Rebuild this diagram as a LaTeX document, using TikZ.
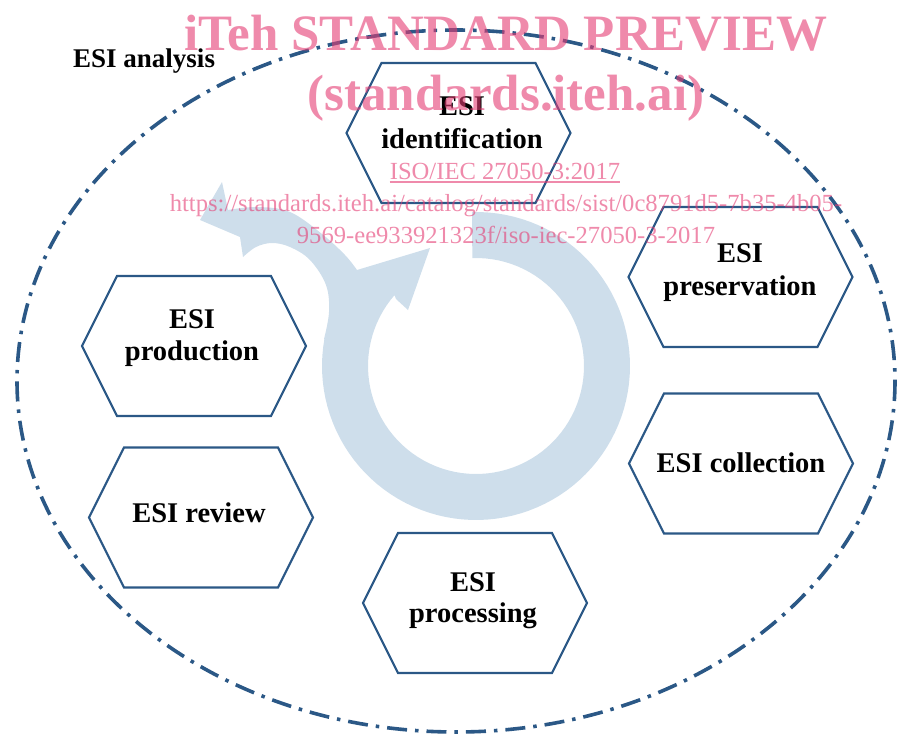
\documentclass[tikz,border=0pt]{standalone}
\usepackage{fontspec}
\setmainfont{Liberation Serif}

\definecolor{hexblue}{RGB}{43,88,134}
\definecolor{ringblue}{RGB}{206,222,235}
\definecolor{wmpink}{RGB}{228,60,115}

% hexagonal frame drawn round an (invisible) rectangular node
\newcommand\hexframe[1]{%
  \draw[hexline] (#1.west) -- ([xshift=35pt]#1.north west)
    -- ([xshift=-35pt]#1.north east) -- (#1.east)
    -- ([xshift=-35pt]#1.south east) -- ([xshift=35pt]#1.south west) -- cycle;}

\tikzset{
  hexbox/.style={minimum width=224pt, minimum height=140pt, inner sep=0pt, outer sep=0pt},
  hexline/.style={draw=hexblue, line width=2.2pt, line join=miter},
  esitext/.style={font=\bfseries\fontsize{28.5}{33}\selectfont, anchor=base, inner sep=0pt},
  titletext/.style={font=\bfseries\fontsize{27}{33}\selectfont, anchor=base west, inner sep=0pt},
  scopeline/.style={draw=hexblue, line width=3.6pt,
    dash pattern=on 20pt off 8pt on 3.5pt off 8pt},
  wmbig/.style={font=\bfseries\fontsize{51}{51}\selectfont, text=wmpink,
    text opacity=0.6, anchor=base, inner sep=0pt},
  wmsmall/.style={font=\fontsize{24.6}{26}\selectfont, text=wmpink,
    text opacity=0.6, anchor=base, inner sep=0pt},
  wmrule/.style={draw=wmpink, draw opacity=0.6, line width=1.3pt},
}

\begin{document}
\begin{tikzpicture}[x=1pt, y=-1pt]
\useasboundingbox (0,0) rectangle (898,734);

% cycle arrow with its side branch
\fill[ringblue] (472,212)
  -- plot[domain=-91.5:190, samples=90, variable=\t] ({476+154*cos(\t)},{366+154*sin(\t)})
  -- plot[smooth, tension=0.6] coordinates {(324,339) (329,312) (326,285) (310,260) (290,247) (272,243) (256,247) (243,257)}
  -- (240,237) -- (200,220) -- (222,182) -- (228,210)
  -- plot[smooth, tension=0.6] coordinates {(228,210) (257,207) (290,212) (322,234) (345,255) (357,270)}
  -- (430,248) -- (408,310) -- (396,299)
  -- plot[domain=0:1, samples=90, variable=\t] ({476+108*cos(221-313.1*\t)},{366+108*sin(221-313.1*\t)})
  -- cycle;

% dash-dot boundary of the analysis scope
\draw[scopeline] (456,381) ellipse [x radius=439, y radius=351];
\node[titletext] (analysis) at (73,67) {ESI analysis};

% process steps
\node[hexbox] (ident) at (458.5,133) {};
\hexframe{ident}
\node[esitext] (ident-a) at (462,115) {ESI};
\node[esitext] (ident-b) at (462,148) {identification};

\node[hexbox] (pres) at (740.5,277) {};
\hexframe{pres}
\node[esitext] (pres-a) at (740,262) {ESI};
\node[esitext] (pres-b) at (740,295) {preservation};

\node[hexbox] (coll) at (741,463.5) {};
\hexframe{coll}
\node[esitext] (coll-a) at (741,472) {ESI collection};

\node[hexbox] (proc) at (475,603) {};
\hexframe{proc}
\node[esitext] (proc-a) at (473,591) {ESI};
\node[esitext] (proc-b) at (473,622) {processing};

\node[hexbox] (rev) at (201,517.5) {};
\hexframe{rev}
\node[esitext] (rev-a) at (199,522) {ESI review};

\node[hexbox] (prod) at (194,346) {};
\hexframe{prod}
\node[esitext] (prod-a) at (192,328) {ESI};
\node[esitext] (prod-b) at (192,360) {production};

% overprinted preview stamp
\node[wmbig] (wm-1) at (506,50) {iTeh STANDARD PREVIEW};
\node[wmbig] (wm-2) at (506,110) {(standards.iteh.ai)};
\node[wmsmall] (wm-3) at (505,179) {ISO/IEC 27050-3:2017};
\draw[wmrule] ([yshift=-3pt]wm-3.base west) -- ([yshift=-3pt]wm-3.base east);
\node[wmsmall] (wm-4) at (506,211) {https://standards.iteh.ai/catalog/standards/sist/0c8791d5-7b35-4b05-};
\node[wmsmall] (wm-5) at (506,243) {9569-ee933921323f/iso-iec-27050-3-2017};
\end{tikzpicture}
\end{document}
